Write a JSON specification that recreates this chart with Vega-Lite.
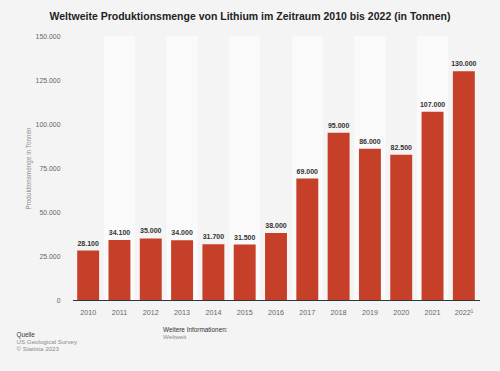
{
  "$schema": "https://vega.github.io/schema/vega-lite/v6.json",
  "autosize": {"type": "none"},
  "width": 407,
  "height": 264,
  "padding": {"left": 72.5, "top": 36, "right": 20.5, "bottom": 71},
  "background": "#f4f4f4",
  "config": {
    "locale": {"number": {"decimal": ",", "thousands": ".", "grouping": [3], "currency": ["", " €"]}},
    "view": {"stroke": null},
    "font": "Liberation Sans"
  },
  "title": {
    "text": "Weltweite Produktionsmenge von Lithium im Zeitraum 2010 bis 2022 (in Tonnen)",
    "fontSize": 10.5,
    "fontWeight": "bold",
    "color": "#222222",
    "anchor": "middle",
    "frame": "group",
    "dx": -26,
    "offset": 10
  },
  "data": {
    "values": [
      {"year": "2010", "value": 28100},
      {"year": "2011", "value": 34100},
      {"year": "2012", "value": 35000},
      {"year": "2013", "value": 34000},
      {"year": "2014", "value": 31700},
      {"year": "2015", "value": 31500},
      {"year": "2016", "value": 38000},
      {"year": "2017", "value": 69000},
      {"year": "2018", "value": 95000},
      {"year": "2019", "value": 86000},
      {"year": "2020", "value": 82500},
      {"year": "2021", "value": 107000},
      {"year": "2022¹", "value": 130000}
    ]
  },
  "resolve": {"axis": {"x": "independent"}},
  "layer": [
    {
      "transform": [{"filter": "indexof(['2011','2013','2015','2017','2019','2021'], datum.year) >= 0"}],
      "mark": {"type": "bar", "color": "#ffffff", "opacity": 0.5, "width": {"band": 1.4286}},
      "encoding": {
        "x": {
          "field": "year",
          "type": "nominal",
          "scale": {
            "domain": ["2010", "2011", "2012", "2013", "2014", "2015", "2016", "2017", "2018", "2019", "2020", "2021", "2022¹"],
            "paddingInner": 0.3,
            "paddingOuter": 0.15
          },
          "axis": {
            "orient": "bottom",
            "labels": false,
            "ticks": false,
            "domain": false,
            "grid": false,
            "title": "Weitere Informationen:",
            "titleX": 90,
            "titleY": 31,
            "titleAlign": "left",
            "titleBaseline": "alphabetic",
            "titleAngle": 0,
            "titleFontSize": 6.4,
            "titleFontWeight": "normal",
            "titleColor": "#333333"
          }
        },
        "y": {
          "datum": 150000,
          "type": "quantitative",
          "scale": {"domain": [0, 150000], "nice": false},
          "axis": {
            "title": "Produktionsmenge in Tonnen",
            "values": [0, 25000, 50000, 75000, 100000, 125000, 150000],
            "format": ",d",
            "domain": false,
            "ticks": false,
            "labelPadding": 12.5,
            "gridColor": "#e0e0e0",
            "labelColor": "#666666",
            "labelFontSize": 6.9,
            "titleFontSize": 6.35,
            "titleColor": "#888888",
            "titleFontWeight": "normal",
            "titlePadding": 4
          }
        }
      }
    },
    {
      "mark": {"type": "bar", "color": "#c63f28"},
      "encoding": {
        "x": {
          "field": "year",
          "type": "nominal",
          "scale": {
            "domain": ["2010", "2011", "2012", "2013", "2014", "2015", "2016", "2017", "2018", "2019", "2020", "2021", "2022¹"],
            "paddingInner": 0.3,
            "paddingOuter": 0.15
          },
          "axis": {
            "orient": "bottom",
            "labelAngle": 0,
            "ticks": false,
            "grid": false,
            "domainColor": "#2e3440",
            "labelColor": "#666666",
            "labelFontSize": 7.2,
            "labelPadding": 8,
            "title": "Quelle",
            "titleX": -56.5,
            "titleY": 36,
            "titleAlign": "left",
            "titleBaseline": "alphabetic",
            "titleAngle": 0,
            "titleFontSize": 6.3,
            "titleFontWeight": "normal",
            "titleColor": "#333333"
          }
        },
        "y": {"field": "value", "type": "quantitative"}
      }
    },
    {
      "mark": {"type": "text", "baseline": "bottom", "dy": -4, "fontWeight": "bold", "fontSize": 7, "color": "#333333"},
      "encoding": {
        "x": {
          "field": "year",
          "type": "nominal",
          "scale": {
            "domain": ["2010", "2011", "2012", "2013", "2014", "2015", "2016", "2017", "2018", "2019", "2020", "2021", "2022¹"],
            "paddingInner": 0.3,
            "paddingOuter": 0.15
          },
          "axis": {
            "orient": "bottom",
            "labels": false,
            "ticks": false,
            "domain": false,
            "grid": false,
            "title": ["US Geological Survey", "© Statista 2023"],
            "titleX": -56.5,
            "titleY": 43.5,
            "titleAlign": "left",
            "titleBaseline": "alphabetic",
            "titleAngle": 0,
            "titleLineHeight": 7.2,
            "titleFontSize": 6.2,
            "titleFontWeight": "normal",
            "titleColor": "#8a8a8a"
          }
        },
        "y": {"field": "value", "type": "quantitative"},
        "text": {"field": "value", "type": "quantitative", "format": ",d"}
      }
    },
    {
      "data": {"values": []},
      "mark": {"type": "text"},
      "encoding": {
        "x": {
          "field": "year",
          "type": "nominal",
          "scale": {
            "domain": ["2010", "2011", "2012", "2013", "2014", "2015", "2016", "2017", "2018", "2019", "2020", "2021", "2022¹"],
            "paddingInner": 0.3,
            "paddingOuter": 0.15
          },
          "axis": {
            "orient": "bottom",
            "labels": false,
            "ticks": false,
            "domain": false,
            "grid": false,
            "title": "Weltweit",
            "titleX": 90,
            "titleY": 38.7,
            "titleAlign": "left",
            "titleBaseline": "alphabetic",
            "titleAngle": 0,
            "titleFontSize": 6.2,
            "titleFontWeight": "normal",
            "titleColor": "#8a8a8a"
          }
        }
      }
    }
  ]
}
